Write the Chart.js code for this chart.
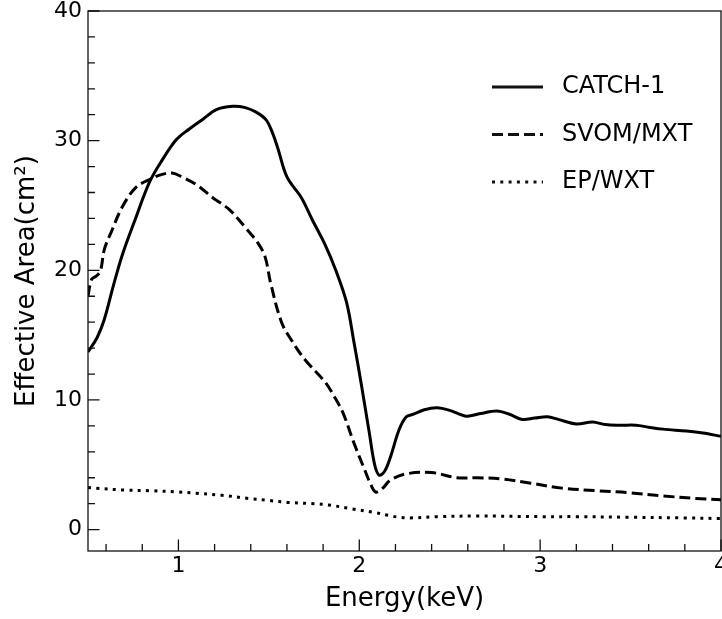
<!DOCTYPE html>
<html>
<head>
<meta charset="utf-8">
<script src="https://cdn.jsdelivr.net/npm/chart.js@4.4.1/dist/chart.umd.min.js"></script>
<style>html,body{margin:0;padding:0;background:#fff}canvas{display:block}</style>
</head>
<body>
<canvas id="c" width="722" height="619"></canvas>
<script>
// CATCH-1 effective area (solid)
const catchE = [0.50,0.55,0.59,0.64,0.69,0.755,0.84,0.91,0.99,1.06,1.13,1.21,1.30,1.37,1.43,1.485,1.52,1.55,1.60,1.68,1.74,1.81,1.87,1.93,1.97,2.01,2.055,2.085,2.11,2.14,2.17,2.22,2.26,2.30,2.36,2.43,2.50,2.59,2.67,2.76,2.83,2.90,2.97,3.04,3.10,3.20,3.29,3.36,3.44,3.53,3.60,3.68,3.81,3.90,4.00];
const catchA = [13.7,14.8,16.2,18.8,21.2,23.7,26.8,28.5,30.1,30.9,31.6,32.4,32.65,32.55,32.2,31.6,30.6,29.4,27.2,25.6,23.9,22.0,20.0,17.5,14.5,11.3,7.5,5.0,4.2,4.5,5.5,7.7,8.7,8.9,9.25,9.4,9.2,8.75,8.95,9.15,8.9,8.5,8.6,8.7,8.5,8.15,8.3,8.1,8.05,8.05,7.9,7.75,7.6,7.45,7.2];
// SVOM/MXT (dashed)
const svomE = [0.50,0.52,0.55,0.57,0.59,0.63,0.69,0.765,0.84,0.91,0.965,1.02,1.10,1.19,1.28,1.37,1.44,1.48,1.51,1.57,1.63,1.70,1.81,1.86,1.91,1.97,2.03,2.06,2.09,2.13,2.17,2.26,2.40,2.54,2.65,2.79,2.94,3.12,3.31,3.49,3.68,3.86,4.00];
const svomA = [18.0,19.3,19.6,20.0,21.6,23.0,24.9,26.4,27.0,27.4,27.5,27.2,26.6,25.6,24.7,23.3,22.1,21.0,19.0,16.0,14.5,13.1,11.4,10.3,9.0,6.7,4.6,3.6,2.9,3.2,3.8,4.3,4.4,4.0,4.0,3.9,3.6,3.2,3.0,2.85,2.6,2.4,2.3];
// EP/WXT (dotted)
const epE = [0.50,0.54,0.70,0.85,1.00,1.10,1.24,1.39,1.50,1.60,1.75,1.83,1.96,2.09,2.16,2.22,2.28,2.43,2.66,3.00,3.20,3.50,3.80,4.00];
const epA = [3.25,3.2,3.05,3.0,2.9,2.8,2.65,2.4,2.25,2.1,2.0,1.9,1.6,1.3,1.1,0.95,0.9,1.0,1.05,1.0,1.0,0.95,0.9,0.85];

const labels = ['CATCH-1','SVOM/MXT','EP/WXT'];
const xMajor = [1,2,3,4];
const yMajor = [0,10,20,30,40];

const dashes = [[],[11,5],[3,5.3]];
const toPts = (e,a)=>e.map((x,i)=>({x, y:a[i]}));
const sets = [[catchE,catchA],[svomE,svomA],[epE,epA]].map(([e,a],i)=>({
  label:labels[i], data:toPts(e,a), borderColor:'#000', borderWidth:3,
  borderDash:dashes[i], pointRadius:0, tension:0.35, fill:false
}));

Chart.defaults.font.family = "'DejaVu Sans'";
Chart.defaults.color = '#000';

const frameTicks = {
  id:'frameTicks',
  afterDraw(chart){
    const {ctx, chartArea:a, scales:{x,y}} = chart;
    ctx.save();
    ctx.strokeStyle = '#111'; ctx.lineWidth = 1.3;
    ctx.strokeRect(a.left, a.top, a.right-a.left, a.bottom-a.top);
    ctx.beginPath();
    for (let v=0.6; v<=4.001; v+=0.2) {
      const px = x.getPixelForValue(v);
      const len = xMajor.some(m=>Math.abs(m-v)<1e-6) ? 11.5 : 7;
      ctx.moveTo(px, a.bottom); ctx.lineTo(px, a.bottom-len);
    }
    for (let v=0; v<=40; v+=2) {
      const py = y.getPixelForValue(v);
      const len = yMajor.includes(v) ? 11.5 : 7;
      ctx.moveTo(a.left, py); ctx.lineTo(a.left+len, py);
    }
    ctx.stroke();
    // legend
    ctx.font = "24px 'DejaVu Sans'"; ctx.textBaseline = 'middle'; ctx.fillStyle = '#000';
    chart.data.datasets.forEach((d,i)=>{
      const ly = 87 + i*47.5;
      ctx.beginPath(); ctx.lineWidth = 3; ctx.setLineDash(d.borderDash);
      ctx.moveTo(492, ly); ctx.lineTo(543, ly); ctx.stroke();
      ctx.setLineDash([]);
      ctx.fillText(d.label, 562, ly);
    });
    ctx.restore();
  }
};

new Chart(document.getElementById('c'), {
  type:'line',
  data:{datasets:sets},
  options:{
    responsive:false, animation:false,
    layout:{padding:{top:11,right:1,left:0,bottom:0}},
    plugins:{legend:{display:false}, tooltip:{enabled:false}},
    scales:{
      x:{type:'linear', min:0.5, max:4,
        grid:{display:false, drawTicks:false}, border:{display:false},
        afterBuildTicks(s){ s.ticks = xMajor.map(v=>({value:v})); },
        ticks:{autoSkip:false, maxRotation:0, padding:2, font:{size:22}},
        title:{display:true, text:'Energy(keV)', font:{size:26}},
        afterFit(s){ s.height = 68; s.paddingLeft = 0; s.paddingRight = 0; }
      },
      y:{min:-1.65, max:40,
        grid:{display:false, drawTicks:false}, border:{display:false},
        afterBuildTicks(s){ s.ticks = yMajor.map(v=>({value:v})); },
        ticks:{autoSkip:false, padding:6, font:{size:22}},
        title:{display:true, text:'Effective Area(cm²)', font:{size:26, lineHeight:'46px'}},
        afterFit(s){ s.width = 88; s.paddingTop = 0; s.paddingBottom = 0; }
      }
    }
  },
  plugins:[frameTicks]
});
</script>
</body>
</html>
